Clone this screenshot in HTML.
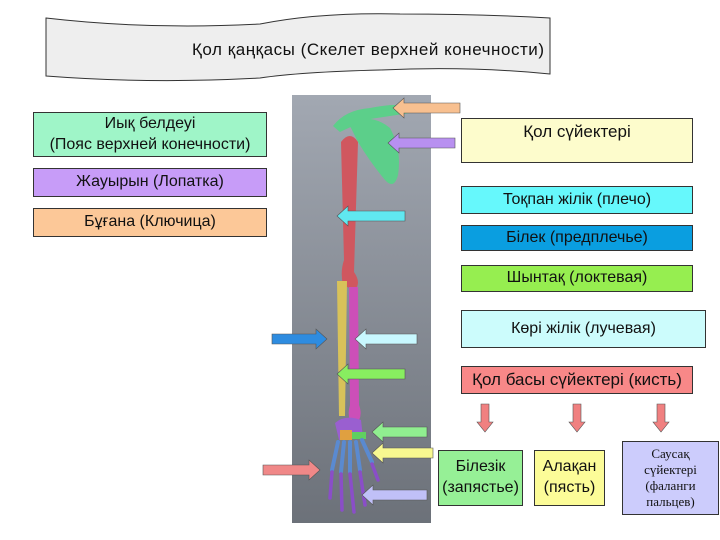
<!DOCTYPE html>
<html><head><meta charset="utf-8"><style>
body{margin:0;width:720px;height:540px;background:#fff;position:relative;overflow:hidden;font-family:"Liberation Sans",sans-serif;}
.b{position:absolute;border:1px solid #333;box-sizing:border-box;text-align:center;font-size:15px;color:#111;display:flex;align-items:center;justify-content:center;line-height:1.3;}
</style></head><body>
<svg width="720" height="540" style="position:absolute;left:0;top:0">
<defs><linearGradient id="g" x1="0" y1="0" x2="0" y2="1"><stop offset="0" stop-color="#a2a8b2"/><stop offset="1" stop-color="#6c7179"/></linearGradient></defs>
<path d="M46 18 Q150 30 260 24 Q320 12 400 14 Q480 14 550 18 L550 74 Q470 66 380 70 Q300 72 260 78 Q150 84 46 76 Z" fill="#eeeeee" stroke="#333" stroke-width="1"/>
<text x="368" y="55" font-size="17" text-anchor="middle" font-family="Liberation Sans, sans-serif" fill="#111" textLength="352">Қол қаңқасы (Скелет верхней конечности)</text>
<rect x="292" y="95" width="139" height="428" fill="url(#g)"/>
<!-- bones -->
<path d="M333 126 Q345 110 370 108 Q395 103 410 106 L410 113 Q390 116 370 119 Q350 127 340 132 Z" fill="#5ccf8a"/>
<path d="M348 122 Q372 113 390 128 Q402 150 398 175 Q394 190 385 180 Q370 162 358 142 Z" fill="#5ccf8a"/>
<path d="M341 142 Q350 130 358 142 L354 272 Q362 284 354 290 L343 285 Q340 272 344 260 Z" fill="#d0575f"/>
<path d="M337 281 L347 281 L345 416 L339 416 Z" fill="#d8c25a"/>
<path d="M349 287 L358 287 L359 405 Q364 418 354 426 Q346 418 350 405 Z" fill="#cc4fb8"/>
<path d="M335 423 Q345 414 361 420 L363 438 L339 440 Z" fill="#9a5fd0"/>
<rect x="340" y="430" width="12" height="10" fill="#e0a040"/>
<rect x="352" y="432" width="14" height="7" fill="#60d060"/>
<g stroke="#5a8ad0" stroke-width="4" stroke-linecap="round" fill="none">
<path d="M338 442 L332 470"/><path d="M344 442 L341 472"/><path d="M350 442 L350 472"/><path d="M356 442 L360 470"/><path d="M362 440 L372 462"/>
</g>
<g stroke="#8a4ec8" stroke-width="3.5" stroke-linecap="round" fill="none">
<path d="M332 472 L330 498"/><path d="M341 474 L342 510"/><path d="M350 474 L354 512"/><path d="M360 472 L365 505"/><path d="M372 464 L378 480"/>
</g>
<g stroke="#555" stroke-width="0.6">
<path d="M393 108 L404 98 L404 103 L460 103 L460 113 L404 113 L404 118 Z" fill="#f8c090"/>
<path d="M388 143 L399 133 L399 138 L455 138 L455 148 L399 148 L399 153 Z" fill="#b890f0"/>
<path d="M337 216 L348 206 L348 211 L405 211 L405 221 L348 221 L348 226 Z" fill="#60e8f0"/>
<path d="M355 339 L366 329 L366 334 L417 334 L417 344 L366 344 L366 349 Z" fill="#c8f8ff"/>
<path d="M337 374 L348 364 L348 369 L405 369 L405 379 L348 379 L348 384 Z" fill="#88ee60"/>
<path d="M372 432 L383 422 L383 427 L427 427 L427 437 L383 437 L383 442 Z" fill="#90ee90"/>
<path d="M372 453 L383 443 L383 448 L433 448 L433 458 L383 458 L383 463 Z" fill="#f8f890"/>
<path d="M362 495 L373 485 L373 490 L427 490 L427 500 L373 500 L373 505 Z" fill="#c0c0f8"/>
<path d="M327 339 L316 329 L316 334 L272 334 L272 344 L316 344 L316 349 Z" fill="#2e8ce0"/>
<path d="M320 470 L309 460 L309 465 L263 465 L263 475 L309 475 L309 480 Z" fill="#f08888"/>
<path d="M481 404 L489 404 L489 422 L493 422 L485 432 L477 422 L481 422 Z" fill="#f08080"/>
<path d="M573 404 L581 404 L581 422 L585 422 L577 432 L569 422 L573 422 Z" fill="#f08080"/>
<path d="M657 404 L665 404 L665 422 L669 422 L661 432 L653 422 L657 422 Z" fill="#f08080"/>
</g>
</svg>
<div class="b" style="left:33px;top:112px;width:234px;height:45px;background:#9ff5c8;font-size:16px">Иық белдеуі<br>(Пояс верхней конечности)</div>
<div class="b" style="left:33px;top:168px;width:234px;height:29px;background:#c79cf8;font-size:16px">Жауырын (Лопатка)</div>
<div class="b" style="left:33px;top:208px;width:234px;height:29px;background:#fcc898;font-size:16px">Бұғана (Ключица)</div>
<div class="b" style="left:461px;top:118px;width:232px;height:45px;background:#fdfccc;align-items:flex-start;padding-top:2px;font-size:17px">Қол сүйектері</div>
<div class="b" style="left:461px;top:186px;width:232px;height:28px;background:#66f8fc;font-size:16px">Тоқпан жілік (плечо)</div>
<div class="b" style="left:461px;top:225px;width:232px;height:26px;background:#0a9ee0;font-size:16px">Білек (предплечье)</div>
<div class="b" style="left:461px;top:265px;width:232px;height:27px;background:#96ee50;font-size:16px">Шынтақ (локтевая)</div>
<div class="b" style="left:461px;top:310px;width:245px;height:38px;background:#ccfcfc;font-size:16px">Көрі жілік (лучевая)</div>
<div class="b" style="left:461px;top:366px;width:232px;height:28px;background:#f88888;font-size:17px">Қол басы сүйектері (кисть)</div>
<div class="b" style="left:438px;top:450px;width:85px;height:56px;background:#96f096;font-size:16px">Білезік<br>(запястье)</div>
<div class="b" style="left:534px;top:450px;width:71px;height:56px;background:#fcfc98;font-size:16px">Алақан<br>(пясть)</div>
<div class="b" style="left:622px;top:441px;width:97px;height:74px;background:#ccccfc;font-family:'Liberation Serif',serif;font-size:13px;line-height:1.25">Саусақ<br>сүйектері<br>(фаланги<br>пальцев)</div>
</body></html>
